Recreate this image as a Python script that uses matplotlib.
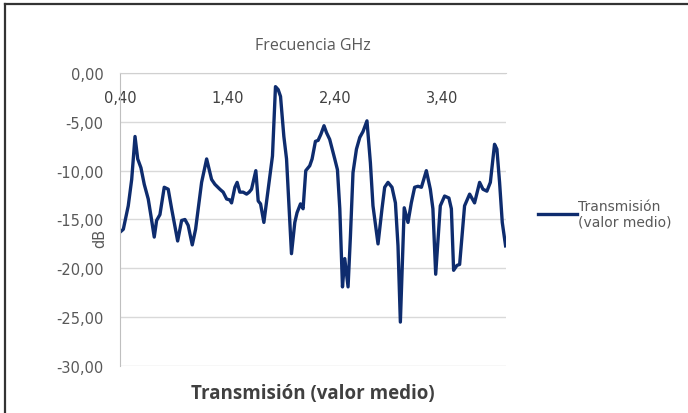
import matplotlib
matplotlib.use("Agg")
import matplotlib.pyplot as plt
from matplotlib.lines import Line2D

# frequency (GHz) and mean transmission (dB)
freq = [0.400, 0.431, 0.477, 0.509, 0.540, 0.565, 0.595, 0.626, 0.663, 0.688,
        0.719, 0.741, 0.772, 0.812, 0.849, 0.881, 0.937, 0.974, 1.005, 1.035,
        1.073, 1.104, 1.160, 1.207, 1.253, 1.284, 1.330, 1.361, 1.393, 1.423,
        1.439, 1.470, 1.491, 1.516, 1.547, 1.579, 1.603, 1.625, 1.665, 1.687,
        1.709, 1.740, 1.780, 1.820, 1.848, 1.873, 1.895, 1.926, 1.951, 1.997,
        2.028, 2.049, 2.081, 2.105, 2.130, 2.167, 2.189, 2.220, 2.245, 2.270,
        2.300, 2.323, 2.353, 2.400, 2.425, 2.447, 2.472, 2.493, 2.524, 2.546,
        2.570, 2.602, 2.633, 2.663, 2.700, 2.732, 2.756, 2.803, 2.840, 2.865,
        2.896, 2.933, 2.965, 2.989, 3.011, 3.047, 3.082, 3.113, 3.144, 3.175,
        3.207, 3.253, 3.290, 3.314, 3.340, 3.383, 3.423, 3.463, 3.486, 3.507,
        3.538, 3.563, 3.609, 3.656, 3.702, 3.749, 3.780, 3.817, 3.849, 3.888,
        3.910, 3.935, 3.960, 3.991]
trans = [-16.3, -16.0, -13.6, -10.9, -6.5, -8.8, -9.7, -11.4, -12.9, -14.6,
         -16.8, -15.1, -14.5, -11.7, -11.9, -13.9, -17.2, -15.1, -15.0, -15.6,
         -17.6, -16.0, -11.2, -8.8, -10.9, -11.4, -11.9, -12.2, -12.9, -13.0,
         -13.3, -11.7, -11.2, -12.2, -12.2, -12.4, -12.2, -11.9, -10.0, -13.1,
         -13.4, -15.3, -11.9, -8.5, -1.4, -1.7, -2.4, -6.5, -8.8, -18.5,
         -15.3, -14.3, -13.4, -13.9, -10.0, -9.5, -8.8, -7.0, -6.9, -6.3,
         -5.4, -6.1, -6.8, -8.8, -9.9, -13.9, -21.9, -19.0, -21.9, -16.7,
         -10.2, -7.8, -6.6, -6.0, -4.9, -9.2, -13.6, -17.5, -13.9, -11.7,
         -11.2, -11.7, -13.3, -17.7, -25.5, -13.8, -15.3, -13.3, -11.7, -11.6,
         -11.7, -10.0, -11.9, -13.9, -20.6, -13.6, -12.6, -12.8, -13.9, -20.2,
         -19.7, -19.6, -13.6, -12.4, -13.3, -11.2, -11.9, -12.1, -11.2, -7.3,
         -7.8, -11.2, -15.3, -17.7]

xtick_pos = [0.40, 1.40, 2.40, 3.40]
xtick_lab = ["0,40", "1,40", "2,40", "3,40"]
ytick_pos = [0, -5, -10, -15, -20, -25, -30]
ytick_lab = ["0,00", "-5,00", "-10,00", "-15,00", "-20,00", "-25,00", "-30,00"]

txt = "#595959"
fig = plt.figure(figsize=(6.88, 4.14), dpi=100)
ax = fig.add_axes([0.1744, 0.1135, 0.5611, 0.7078])

ax.plot(freq, trans, color="#0E2C6E", lw=2.4, label="Transmisión\n(valor medio)")
ax.set_xlim(0.40, 3.995)
ax.set_ylim(-30, 0)

ax.set_yticks(ytick_pos)
ax.set_yticklabels(ytick_lab)
ax.set_xticks(xtick_pos)
ax.set_xticklabels(xtick_lab)
ax.tick_params(axis="y", length=0, pad=12, labelsize=10.5, labelcolor=txt)
ax.tick_params(axis="x", length=0, bottom=False, labelbottom=False,
               top=False, labeltop=True, pad=-23, labelsize=10.5, labelcolor="#404040")

ax.grid(axis="y", color="#D9D9D9", lw=1)
for s in ["right", "bottom"]:
    ax.spines[s].set_visible(False)
ax.spines["left"].set_color("#BFBFBF")
ax.spines["top"].set_color("#D0D0D0")

ax.set_title("Frecuencia GHz", family="Open Sans", fontsize=11.5, color=txt, pad=17)
ax.set_xlabel("Transmisión (valor medio)", family="Open Sans", fontsize=13.5,
              fontweight="bold", color="#404040", labelpad=12)
ax.set_ylabel("dB", fontsize=10.5, color=txt)
ax.yaxis.set_label_coords(-0.033, 0.44)

leg = ax.legend(loc="center left", bbox_to_anchor=(1.05, 0.52), frameon=False,
                handlelength=2.8, handletextpad=0.1, fontsize=10)
for t in leg.get_texts():
    t.set_color(txt)

# chart frame (cut off at the right and bottom in the reference)
fig.add_artist(Line2D([5 / 688, 1], [1 - 5 / 414, 1 - 5 / 414], color="#333333", lw=1.6))
fig.add_artist(Line2D([5 / 688, 5 / 688], [0, 1 - 5 / 414], color="#333333", lw=1.6))

fig.savefig("out.png", dpi=100)
